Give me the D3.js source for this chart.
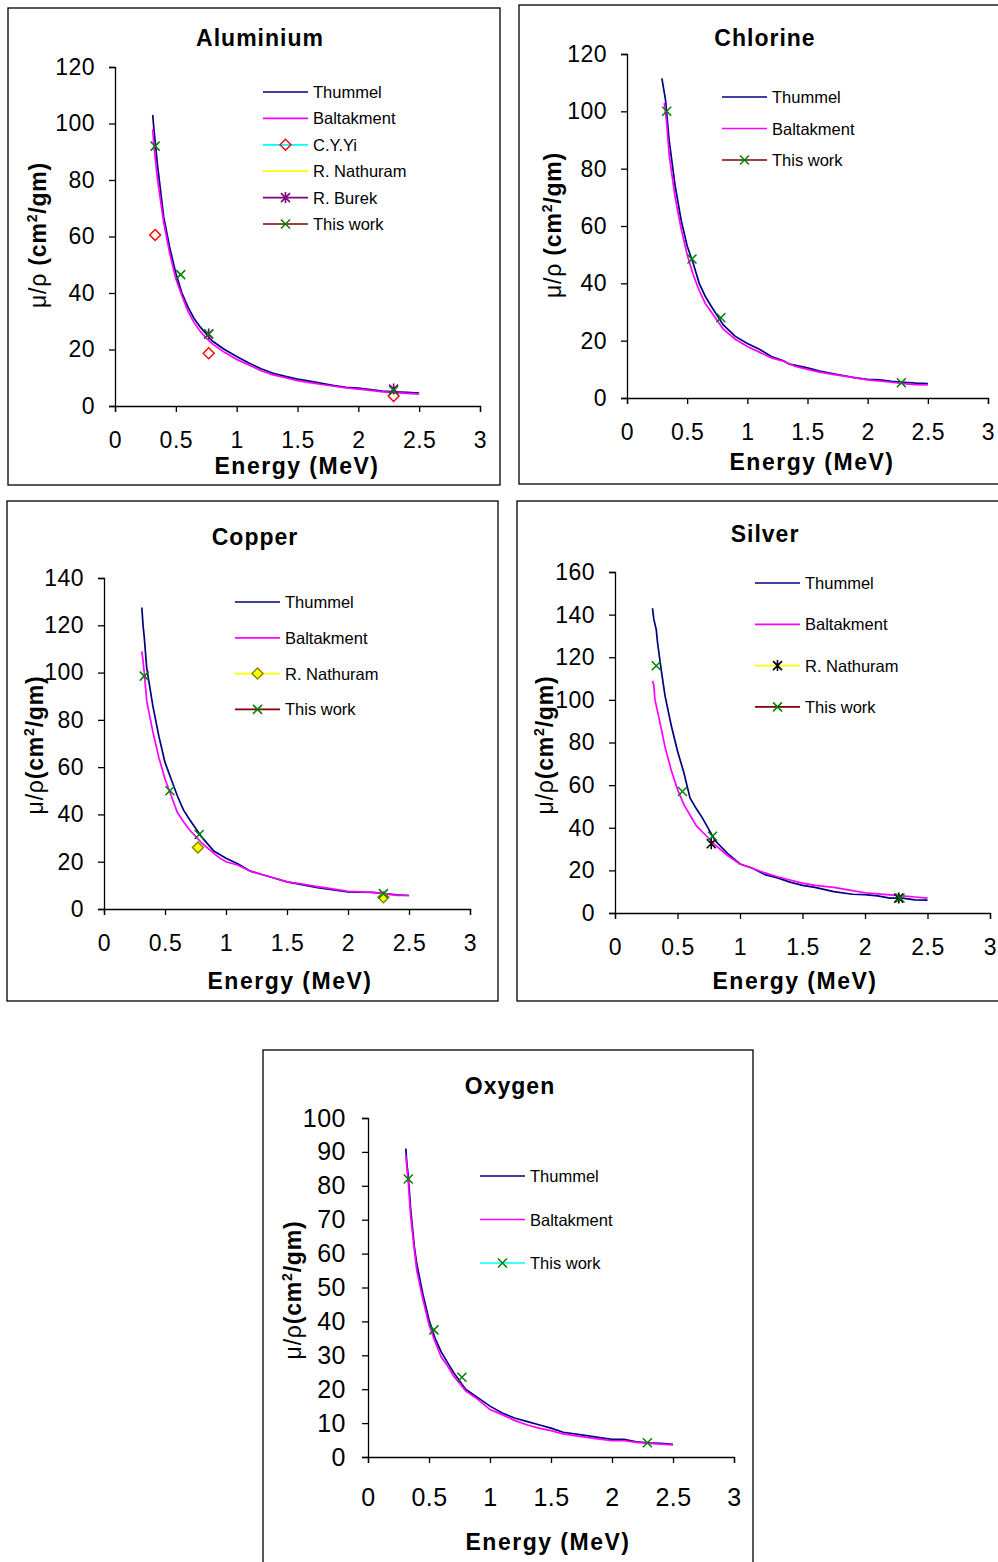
<!DOCTYPE html>
<html>
<head>
<meta charset="utf-8">
<script src="https://cdn.jsdelivr.net/npm/d3@7"></script>
<style>
  body { margin:0; background:#fff; }
  svg { display:block; font-family:"Liberation Sans", Arial, sans-serif; }
  .legtext { font-size:16.5px; fill:#000; }
  .ptitle { font-size:23px; font-weight:bold; letter-spacing:1px; }
  .atitle { font-size:23px; font-weight:bold; letter-spacing:1.5px; }
  .ytitle { font-size:23px; font-weight:bold; letter-spacing:0.8px; }
</style>
</head>
<body>
<svg id="fig" width="998" height="1562"></svg>
<script>

// ---- data : [energy MeV, mu/rho cm2/gm]

const xTicks = [0, 0.5, 1, 1.5, 2, 2.5, 3];

const alThummel   = [[0.31,103],[0.32,98],[0.35,85],[0.4,67],[0.45,56],[0.5,47],[0.55,40],[0.6,35],[0.65,31],[0.7,28],[0.75,25.5],[0.8,23],[0.9,20],[1.0,17.5],[1.1,15.2],[1.2,13.2],[1.3,11.6],[1.4,10.5],[1.5,9.5],[1.6,8.8],[1.7,8],[1.8,7.2],[1.9,6.6],[2.0,6.3],[2.1,5.8],[2.2,5.3],[2.3,5],[2.4,4.8],[2.5,4.6]];
const alBaltak    = [[0.31,98],[0.32,92],[0.35,80],[0.4,65],[0.45,54],[0.5,45],[0.55,39],[0.6,33.5],[0.65,29.5],[0.7,26.5],[0.75,24],[0.8,22],[0.9,19],[1.0,16.5],[1.1,14.5],[1.2,12.5],[1.3,11],[1.4,10],[1.5,9],[1.6,8.3],[1.7,7.6],[1.8,7],[1.9,6.4],[2.0,6],[2.1,5.5],[2.2,5],[2.3,4.7],[2.4,4.5],[2.5,4.2]];
const alCYYi      = [[0.33,60.5],[0.77,18.7],[2.29,3.5]];
const alBurek     = [[0.77,25.5],[2.29,6]];
const alThisWork  = [[0.33,92],[0.54,46.5],[0.77,25.5],[2.29,5.5]];

const clThummel   = [[0.29,111.5],[0.3,109],[0.32,104],[0.35,90],[0.4,74],[0.45,62],[0.5,53],[0.55,47],[0.6,40],[0.65,35.5],[0.7,32],[0.8,25.5],[0.9,21.5],[1.0,19],[1.1,17],[1.2,14.5],[1.3,13],[1.35,11.8],[1.5,10.5],[1.6,9.4],[1.75,8.2],[1.9,7],[2.0,6.5],[2.1,6.3],[2.2,5.8],[2.3,5.5],[2.4,5.2],[2.5,5]];
const clBaltak    = [[0.31,103],[0.33,96],[0.35,85],[0.4,70],[0.45,59],[0.5,50],[0.55,43],[0.6,37.5],[0.65,33],[0.7,30],[0.8,24],[0.9,20.5],[1.0,18],[1.1,16],[1.2,14],[1.3,12.8],[1.4,11],[1.5,10],[1.6,9],[1.75,8],[1.9,7],[2.0,6.3],[2.2,5.5],[2.3,5],[2.4,4.7],[2.5,4.6]];
const clThisWork  = [[0.33,100],[0.54,48.5],[0.78,28],[2.28,5.3]];

const cuThummel   = [[0.31,127.5],[0.32,120],[0.33,115],[0.35,102],[0.4,86],[0.45,73],[0.5,62],[0.55,55],[0.6,48],[0.65,42],[0.7,38],[0.8,30.5],[0.9,24.5],[1.0,21.5],[1.1,19],[1.2,16],[1.3,14.5],[1.4,13],[1.5,11.5],[1.6,10.5],[1.75,9],[1.9,8],[2.0,7.2],[2.2,7],[2.3,6.5],[2.4,6],[2.5,5.7]];
const cuBaltak    = [[0.31,109],[0.32,105],[0.33,100],[0.35,88],[0.4,75],[0.45,64],[0.5,55],[0.55,48],[0.6,41],[0.65,37],[0.7,33.5],[0.8,28],[0.9,23.5],[0.95,21.5],[1.0,20],[1.1,18.5],[1.2,16],[1.3,14.5],[1.4,13],[1.5,11.5],[1.6,10.8],[1.75,9.5],[1.9,8.3],[2.0,7.5],[2.2,7],[2.3,6.5],[2.4,5.8],[2.5,5.7]];
const cuNathuram  = [[0.77,26],[2.29,5]];
const cuThisWork  = [[0.33,98.5],[0.54,50],[0.78,31.5],[2.29,6.5]];

const agThummel   = [[0.3,143],[0.31,138],[0.33,133],[0.34,127],[0.37,114],[0.4,102],[0.45,88],[0.5,76],[0.55,66],[0.6,54],[0.65,49],[0.7,44.5],[0.8,34],[0.9,28],[1.0,23],[1.1,21],[1.2,18],[1.3,16.5],[1.4,14.5],[1.5,13],[1.6,12],[1.75,10],[1.9,8.8],[2.0,8.6],[2.1,8],[2.2,7],[2.3,7],[2.4,6.2],[2.5,6]];
const agBaltak    = [[0.3,109],[0.31,107],[0.32,100],[0.35,92],[0.4,78],[0.45,67],[0.5,58],[0.55,51],[0.6,46],[0.65,41],[0.7,38],[0.8,32],[0.9,27],[1.0,23],[1.1,21],[1.2,18.8],[1.3,17],[1.4,15.5],[1.5,14],[1.6,13],[1.75,12],[1.9,10.5],[2.0,9.5],[2.1,9],[2.2,8.5],[2.3,8],[2.4,7.5],[2.5,7]];
const agNathuram  = [[0.77,32.5],[2.27,7]];
const agThisWork  = [[0.33,116],[0.54,57],[0.78,36],[2.28,7]];

const oxThummel   = [[0.31,91],[0.32,86],[0.33,83],[0.35,73],[0.38,62],[0.4,57],[0.45,48],[0.5,40.5],[0.55,35],[0.6,31],[0.65,28],[0.7,25],[0.8,20],[0.9,17.5],[1.0,15],[1.1,13],[1.2,11.5],[1.3,10.5],[1.4,9.5],[1.5,8.5],[1.6,7.3],[1.75,6.5],[1.9,5.7],[2.0,5.2],[2.1,5.2],[2.2,4.5],[2.3,4.2],[2.4,4],[2.5,3.7]];
const oxBaltak    = [[0.31,89],[0.32,85],[0.33,81],[0.35,71],[0.38,61],[0.4,55],[0.45,46.5],[0.5,39],[0.55,34],[0.6,29.5],[0.65,27],[0.7,24],[0.8,19.5],[0.9,17],[1.0,14],[1.1,12.5],[1.2,10.8],[1.3,9.5],[1.4,8.5],[1.5,7.8],[1.6,6.8],[1.75,6],[1.9,5.3],[2.0,4.8],[2.1,4.8],[2.2,4.3],[2.3,4],[2.4,3.8],[2.5,3.6]];
const oxThisWork  = [[0.33,82],[0.54,37.5],[0.77,23.5],[2.29,4.2]];

// ---- series styles
const NAVY='#000080', MAG='#ff00ff', GREEN='#008000';

function panels() {
  return [
    { name:'Aluminium', box:[8,8,492,477], plot:[115,67,480,406], yMax:120, yStep:20, tickFs:23, xPad:20, yPad:14,
      title:[260,46], xt:[297,474], yt:[38,235], ytGap:true,
      leg:{x:263, y:92, dy:26.4},
      series:[
        {label:'Thummel',    data:alThummel,  line:NAVY},
        {label:'Baltakment', data:alBaltak,   line:MAG},
        {label:'C.Y.Yi',     data:alCYYi,     legLine:'#00ffff', mark:'diamond', mstroke:'#ff0000', mfill:'none'},
        {label:'R. Nathuram',data:[],         legLine:'#ffff00'},
        {label:'R. Burek',   data:alBurek,    legLine:'#800080', mark:'star', mstroke:'#800080'},
        {label:'This work',  data:alThisWork, legLine:'#800000', mark:'x', mstroke:GREEN}
      ]},
    { name:'Chlorine', box:[519,5,520,479], plot:[627,54,988,398], yMax:120, yStep:20, tickFs:23, xPad:20, yPad:14,
      title:[765,46], xt:[812,470], yt:[553,225], ytGap:true,
      leg:{x:722, y:97, dy:31.5},
      series:[
        {label:'Thummel',    data:clThummel,  line:NAVY},
        {label:'Baltakment', data:clBaltak,   line:MAG},
        {label:'This work',  data:clThisWork, legLine:'#800000', mark:'x', mstroke:GREEN}
      ]},
    { name:'Copper', box:[7,501,491,500], plot:[104,578,470,909], yMax:140, yStep:20, tickFs:23, xPad:20, yPad:14,
      title:[255,545], xt:[290,989], yt:[35,745], ytGap:false,
      leg:{x:235, y:602, dy:35.8},
      series:[
        {label:'Thummel',    data:cuThummel,  line:NAVY},
        {label:'Baltakment', data:cuBaltak,   line:MAG},
        {label:'R. Nathuram',data:cuNathuram, legLine:'#ffff00', mark:'diamond', mstroke:'#808000', mfill:'#ffff00'},
        {label:'This work',  data:cuThisWork, legLine:'#800000', mark:'x', mstroke:GREEN}
      ]},
    { name:'Silver', box:[517,501,490,500], plot:[615,572,990,913], yMax:160, yStep:20, tickFs:23, xPad:20, yPad:14,
      title:[765,542], xt:[795,989], yt:[545,745], ytGap:false,
      leg:{x:755, y:583, dy:41.3},
      series:[
        {label:'Thummel',    data:agThummel,  line:NAVY},
        {label:'Baltakment', data:agBaltak,   line:MAG},
        {label:'R. Nathuram',data:agNathuram, legLine:'#ffff00', mark:'star', mstroke:'#000000'},
        {label:'This work',  data:agThisWork, legLine:'#800000', mark:'x', mstroke:GREEN}
      ]},
    { name:'Oxygen', box:[263,1050,490,520], plot:[368,1118,734,1457], yMax:100, yStep:10, tickFs:25, xPad:25, yPad:16,
      title:[510,1094], xt:[548,1550], yt:[293,1290], ytGap:false,
      leg:{x:480, y:1176, dy:43.5},
      series:[
        {label:'Thummel',    data:oxThummel,  line:NAVY},
        {label:'Baltakment', data:oxBaltak,   line:MAG},
        {label:'This work',  data:oxThisWork, legLine:'#00ffff', mark:'x', mstroke:GREEN}
      ]}
  ];
}

function drawMarker(g, kind, cx, cy, stroke, fill) {
  const s = 4.5;
  if (kind=='x') {
    g.append('path').attr('d',`M${cx-s},${cy-s}L${cx+s},${cy+s}M${cx-s},${cy+s}L${cx+s},${cy-s}`)
      .attr('stroke',stroke).attr('stroke-width',1.5).attr('fill','none');
  } else if (kind=='star') {
    g.append('path').attr('d',`M${cx-s},${cy-s}L${cx+s},${cy+s}M${cx-s},${cy+s}L${cx+s},${cy-s}M${cx},${cy-s-1}L${cx},${cy+s+1}`)
      .attr('stroke',stroke).attr('stroke-width',1.6).attr('fill','none');
  } else if (kind=='diamond') {
    const d=5.5;
    g.append('path').attr('d',`M${cx},${cy-d}L${cx+d},${cy}L${cx},${cy+d}L${cx-d},${cy}Z`)
      .attr('stroke',stroke).attr('stroke-width',1.4).attr('fill',fill||'none');
  }
}

const svg = d3.select('#fig');

panels().forEach(p => {
  const g = svg.append('g');
  g.append('rect').attr('x',p.box[0]).attr('y',p.box[1]).attr('width',p.box[2]).attr('height',p.box[3])
    .attr('fill','#fff').attr('stroke','#000').attr('stroke-width',1.3);

  const x = d3.scaleLinear().domain([0,3]).range([p.plot[0], p.plot[2]]);
  const y = d3.scaleLinear().domain([0,p.yMax]).range([p.plot[3], p.plot[1]]);

  const xa = g.append('g').attr('transform',`translate(0,${p.plot[3]})`)
    .call(d3.axisBottom(x).tickValues(xTicks).tickSize(6).tickPadding(p.xPad).tickFormat(d3.format('')));
  const ya = g.append('g').attr('transform',`translate(${p.plot[0]},0)`)
    .call(d3.axisLeft(y).ticks(p.yMax/p.yStep).tickSize(6).tickPadding(p.yPad));
  [xa,ya].forEach(a => {
    a.selectAll('.domain').attr('stroke','#000').attr('stroke-width',1.3);
    a.selectAll('.tick line').attr('stroke','#000').attr('stroke-width',1.3);
    a.selectAll('.tick text').attr('fill','#000').style('font-size',p.tickFs+'px')
      .style('letter-spacing','0.5px').attr('font-family','Liberation Sans, Arial');
  });

  const line = d3.line().x(d=>x(d[0])).y(d=>y(d[1]));
  p.series.forEach(s => {
    if (s.line) {
      g.append('path').datum(s.data).attr('d',line).attr('fill','none')
        .attr('stroke',s.line).attr('stroke-width',1.7);
    }
  });
  p.series.forEach(s => {
    if (s.mark) s.data.forEach(d => drawMarker(g, s.mark, x(d[0]), y(d[1]), s.mstroke, s.mfill));
  });

  // legend
  p.series.forEach((s,i) => {
    const ly = p.leg.y + i*p.leg.dy;
    g.append('line').attr('x1',p.leg.x).attr('x2',p.leg.x+45).attr('y1',ly).attr('y2',ly)
      .attr('stroke', s.line || s.legLine).attr('stroke-width',1.7);
    if (s.mark) drawMarker(g, s.mark, p.leg.x+22.5, ly, s.mstroke, s.mfill);
    g.append('text').attr('class','legtext').attr('x',p.leg.x+50).attr('y',ly+6).text(s.label);
  });

  g.append('text').attr('class','ptitle').attr('x',p.title[0]).attr('y',p.title[1])
    .attr('text-anchor','middle').text(p.name);
  g.append('text').attr('class','atitle').attr('x',p.xt[0]).attr('y',p.xt[1])
    .attr('text-anchor','middle').text('Energy (MeV)');

  const yt = g.append('text').attr('class','ytitle')
    .attr('transform',`translate(${p.yt[0]+8},${p.yt[1]}) rotate(-90)`)
    .attr('text-anchor','middle');
  yt.append('tspan').attr('font-weight','normal').text(p.ytGap ? 'μ/ρ ' : 'μ/ρ');
  yt.append('tspan').text('(cm');
  yt.append('tspan').attr('font-size','14px').attr('dy',-9).text('2');
  yt.append('tspan').attr('dy',9).text('/gm)');
});
</script>
</body>
</html>
